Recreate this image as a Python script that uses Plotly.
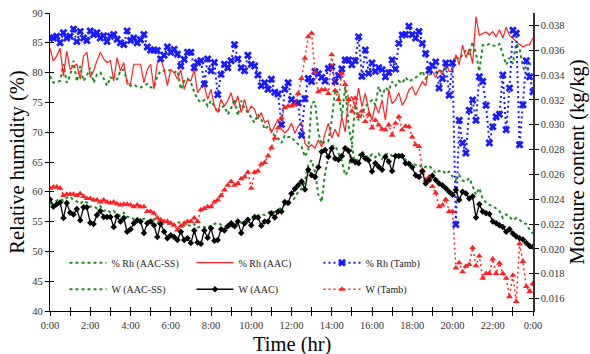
import plotly.graph_objects as go

# sampling grid: every 10 minutes over 24 h
minutes = list(range(0, 1441, 10))
hours = [m / 60 for m in minutes]

rh_aac_ss = [79.4, 78.3, 78.4, 78.6, 81.4, 78.3, 79.5, 82.0, 78.5, 81.1,
             78.6, 79.5, 80.8, 78.3, 79.7, 80.0, 79.0, 77.8, 79.2, 78.9,
             78.9, 80.3, 80.5, 78.5, 77.8, 78.0, 77.6, 77.5, 77.8, 78.1,
             77.5, 77.6, 79.4, 80.3, 80.3, 80.5, 80.3, 80.0, 80.3, 77.2,
             78.6, 79.0, 78.4, 76.7, 75.5, 75.0, 75.4, 74.4, 75.3, 74.2,
             73.3, 74.2, 74.4, 73.0, 74.0, 75.6, 72.8, 75.3, 74.0, 73.3,
             72.5, 71.6, 73.0, 72.2, 70.5, 71.0, 70.2, 69.4, 69.0, 68.2,
             69.5, 69.2, 69.2, 68.5, 68.0, 67.6, 65.9, 67.0, 74.9, 75.1,
             70.0, 67.9, 68.5, 68.5, 72.0, 77.1, 76.5, 72.6, 77.6, 71.2,
             68.0, 74.6, 72.0, 73.0, 74.3, 74.8, 75.4, 74.6, 77.7, 76.0,
             77.5, 77.0, 78.5, 77.8, 78.6, 78.2, 79.2, 78.5, 78.8, 79.2,
             79.5, 80.3, 79.0, 79.6, 79.9, 80.0, 80.4, 80.2, 80.6, 81.2,
             81.8, 82.7, 82.2, 83.0, 83.8, 83.0, 85.2, 83.2, 80.2, 84.6,
             84.5, 84.8, 84.6, 84.4, 84.8, 83.0, 81.3, 82.5, 81.5, 84.9,
             84.0, 81.0, 79.7, 81.5, 81.0]

rh_aac = [84.1, 81.9, 82.8, 84.1, 79.4, 83.6, 80.5, 81.1, 81.4, 78.9,
          82.8, 83.4, 79.2, 80.3, 82.0, 83.4, 82.3, 81.7, 82.0, 78.6,
          82.5, 80.3, 81.7, 78.1, 78.1, 81.4, 81.4, 81.4, 78.3, 80.5,
          81.4, 77.2, 81.7, 82.3, 80.6, 77.8, 80.5, 80.0, 78.9, 80.5,
          77.2, 78.9, 78.6, 80.5, 76.6, 77.5, 77.8, 75.5, 77.2, 74.4,
          73.3, 75.5, 74.4, 75.3, 76.6, 74.4, 76.1, 73.3, 75.5, 73.3,
          74.4, 73.8, 72.2, 73.3, 71.6, 72.0, 69.9, 71.0, 72.2, 70.5,
          69.9, 70.4, 71.5, 69.8, 71.0, 71.7, 68.1, 67.5, 67.9, 67.3,
          68.7, 67.5, 69.8, 71.5, 69.0, 70.5, 69.2, 72.6, 70.0, 75.4,
          76.0, 74.0, 77.4, 74.3, 76.5, 73.7, 72.0, 74.6, 73.2, 75.4,
          72.0, 77.1, 74.8, 75.4, 76.6, 74.5, 75.4, 77.1, 77.6, 76.2,
          77.4, 78.5, 77.8, 80.7, 80.2, 79.2, 80.5, 79.6, 81.9, 80.2,
          80.2, 83.0, 81.3, 84.6, 82.5, 84.0, 81.5, 89.4, 86.3, 86.5,
          86.8, 86.3, 86.9, 86.0, 87.2, 85.8, 87.6, 86.2, 85.8, 85.2,
          84.8, 84.3, 84.6, 84.7, 85.8]

rh_tamb = [85.8, 85.8, 86.1, 85.0, 86.7, 85.8, 86.1, 87.3, 85.2, 86.9,
           85.8, 85.4, 87.0, 86.4, 86.7, 85.8, 86.2, 85.2, 86.1, 86.4,
           85.6, 85.0, 84.7, 87.0, 85.4, 85.8, 85.0, 85.5, 86.4, 84.3,
           83.8, 83.8, 83.7, 82.3, 82.9, 84.3, 83.4, 83.9, 83.1, 81.1,
           82.2, 83.4, 83.4, 80.8, 81.7, 82.0, 78.1, 82.3, 80.3, 81.7,
           76.3, 79.7, 81.4, 80.8, 82.0, 84.7, 82.3, 80.8, 80.3, 82.9,
           81.4, 81.1, 79.6, 77.8, 78.3, 77.2, 78.9, 76.7, 76.4, 71.3,
           77.2, 78.3, 75.5, 75.0, 74.9, 69.5, 75.6, 79.0, 78.5, 80.2,
           79.8, 79.2, 78.6, 80.7, 81.0, 78.5, 79.5, 80.6, 82.1, 82.1,
           81.3, 82.0, 86.0, 79.4, 83.8, 79.9, 81.6, 80.2, 80.8, 80.5,
           79.3, 80.0, 82.1, 80.6, 84.9, 86.3, 86.4, 87.8, 86.4, 85.8,
           86.9, 84.9, 83.2, 80.4, 81.2, 81.8, 77.4, 79.0, 81.6, 76.2,
           81.6, 54.5, 72.0, 68.2, 66.5, 73.7, 75.4, 72.0, 79.3, 78.5,
           74.5, 68.2, 70.9, 72.6, 73.0, 79.6, 70.4, 77.4, 87.1, 86.6,
           67.9, 74.6, 82.0, 79.3, 76.8]

w_aac_ss = [0.02364, 0.02378, 0.02388, 0.02402, 0.02388, 0.02412, 0.02422, 0.02393, 0.02383, 0.02364,
            0.02388, 0.02374, 0.02340, 0.02345, 0.02326, 0.02345, 0.02306, 0.02316, 0.02292, 0.02306,
            0.02278, 0.02268, 0.02292, 0.02258, 0.02258, 0.02239, 0.02249, 0.02230, 0.02244, 0.02220,
            0.02225, 0.02239, 0.02210, 0.02230, 0.02220, 0.02201, 0.02206, 0.02191, 0.02215, 0.02210,
            0.02186, 0.02196, 0.02182, 0.02201, 0.02172, 0.02182, 0.02177, 0.02167, 0.02191, 0.02201,
            0.02210, 0.02196, 0.02186, 0.02172, 0.02182, 0.02201, 0.02191, 0.02210, 0.02220, 0.02230,
            0.02239, 0.02249, 0.02268, 0.02278, 0.02273, 0.02292, 0.02306, 0.02297, 0.02316, 0.02335,
            0.02354, 0.02364, 0.02383, 0.02412, 0.02460, 0.02484, 0.02546, 0.02676, 0.02714, 0.02623,
            0.02436, 0.02378, 0.02609, 0.02743, 0.02825, 0.02834, 0.02772, 0.02710, 0.02594, 0.02628,
            0.02834, 0.02676, 0.02748, 0.02786, 0.02758, 0.02729, 0.02762, 0.02738, 0.02767, 0.02724,
            0.02758, 0.02772, 0.02748, 0.02738, 0.02767, 0.02748, 0.02719, 0.02690, 0.02690, 0.02676,
            0.02681, 0.02652, 0.02662, 0.02671, 0.02642, 0.02609, 0.02628, 0.02633, 0.02604, 0.02623,
            0.02585, 0.02556, 0.02594, 0.02551, 0.02542, 0.02570, 0.02508, 0.02436, 0.02489, 0.02402,
            0.02374, 0.02354, 0.02345, 0.02326, 0.02306, 0.02249, 0.02278, 0.02258, 0.02230, 0.02249,
            0.02234, 0.02210, 0.02201, 0.02153, 0.02124]

w_aac = [0.02398, 0.02340, 0.02359, 0.02374, 0.02249, 0.02369, 0.02292, 0.02278, 0.02321, 0.02230,
         0.02335, 0.02335, 0.02210, 0.02201, 0.02273, 0.02306, 0.02258, 0.02258, 0.02258, 0.02177,
         0.02263, 0.02220, 0.02249, 0.02138, 0.02158, 0.02206, 0.02230, 0.02220, 0.02129, 0.02206,
         0.02220, 0.02191, 0.02095, 0.02201, 0.02138, 0.02086, 0.02110, 0.02095, 0.02071, 0.02138,
         0.02071, 0.02086, 0.02047, 0.02148, 0.02052, 0.02042, 0.02148, 0.02090, 0.02167, 0.02066,
         0.02071, 0.02158, 0.02148, 0.02182, 0.02206, 0.02182, 0.02220, 0.02129, 0.02206, 0.02234,
         0.02191, 0.02258, 0.02254, 0.02186, 0.02220, 0.02220, 0.02287, 0.02254, 0.02302, 0.02302,
         0.02378, 0.02369, 0.02446, 0.02484, 0.02513, 0.02542, 0.02479, 0.02638, 0.02594, 0.02580,
         0.02657, 0.02782, 0.02796, 0.02743, 0.02810, 0.02729, 0.02719, 0.02748, 0.02810, 0.02791,
         0.02714, 0.02700, 0.02690, 0.02758, 0.02729, 0.02714, 0.02623, 0.02690, 0.02662, 0.02638,
         0.02743, 0.02705, 0.02628, 0.02748, 0.02748, 0.02748, 0.02690, 0.02686, 0.02657, 0.02594,
         0.02580, 0.02623, 0.02527, 0.02556, 0.02590, 0.02556, 0.02527, 0.02513, 0.02489, 0.02460,
         0.02436, 0.02474, 0.02393, 0.02460, 0.02446, 0.02407, 0.02422, 0.02254, 0.02359, 0.02302,
         0.02287, 0.02282, 0.02220, 0.02206, 0.02191, 0.02177, 0.02138, 0.02158, 0.02124, 0.02100,
         0.02086, 0.02076, 0.02047, 0.02023, 0.02018]

w_tamb = [0.02489, 0.02498, 0.02498, 0.02489, 0.02431, 0.02441, 0.02441, 0.02441, 0.02431, 0.02446,
          0.02422, 0.02407, 0.02407, 0.02393, 0.02393, 0.02378, 0.02393, 0.02378, 0.02369, 0.02378,
          0.02364, 0.02354, 0.02359, 0.02359, 0.02354, 0.02340, 0.02354, 0.02340, 0.02340, 0.02302,
          0.02302, 0.02287, 0.02249, 0.02234, 0.02220, 0.02220, 0.02206, 0.02191, 0.02153, 0.02182,
          0.02206, 0.02220, 0.02220, 0.02249, 0.02220, 0.02316, 0.02326, 0.02340, 0.02340, 0.02378,
          0.02393, 0.02431, 0.02474, 0.02513, 0.02542, 0.02513, 0.02527, 0.02566, 0.02580, 0.02618,
          0.02489, 0.02618, 0.02628, 0.02681, 0.02695, 0.02748, 0.02815, 0.02892, 0.02974, 0.03055,
          0.03137, 0.03151, 0.03151, 0.03161, 0.03252, 0.03372, 0.03535, 0.03708, 0.03737, 0.03420,
          0.03266, 0.03281, 0.03281, 0.03252, 0.03564, 0.03276, 0.03204, 0.03415, 0.03324, 0.03204,
          0.03108, 0.03214, 0.03065, 0.03108, 0.03026, 0.03084, 0.02974, 0.03036, 0.02998, 0.02964,
          0.02959, 0.02998, 0.02916, 0.03012, 0.03065, 0.02959, 0.02988, 0.02983, 0.02902, 0.02839,
          0.02825, 0.02638, 0.02556, 0.02580, 0.02503, 0.02450, 0.02340, 0.02354, 0.02398, 0.02302,
          0.02302, 0.01846, 0.01889, 0.01817, 0.01860, 0.01874, 0.02009, 0.01865, 0.01942, 0.01764,
          0.01802, 0.01802, 0.01918, 0.01802, 0.01884, 0.01802, 0.01764, 0.01615, 0.01788, 0.01577,
          0.02042, 0.01898, 0.01697, 0.01658, 0.01721]

x_tick_vals = [0, 2, 4, 6, 8, 10, 12, 14, 16, 18, 20, 22, 24]
x_tick_text = ["0:00", "2:00", "4:00", "6:00", "8:00", "10:00", "12:00",
               "14:00", "16:00", "18:00", "20:00", "22:00", "0:00"]

FONT = "Liberation Serif"
GREEN = "#1E8C1E"
RED = "#FF2020"
BLUE = "#1A1AFF"

fig = go.Figure()

# moisture content traces (right axis)
fig.add_trace(go.Scatter(x=hours, y=w_aac_ss, name="W (AAC-SS)", mode="lines",
                         line=dict(color=GREEN, width=2, dash="3px,3px"),
                         xaxis="x", yaxis="y2", legend="legend2", legendrank=1))
fig.add_trace(go.Scatter(x=hours, y=w_tamb, name="W (Tamb)", mode="lines+markers",
                         line=dict(color=RED, width=1.5, dash="2px,3px"),
                         marker=dict(symbol="triangle-up", size=6, color=RED),
                         xaxis="x", yaxis="y2", legend="legend2", legendrank=3))
fig.add_trace(go.Scatter(x=hours, y=w_aac, name="W (AAC)", mode="lines+markers",
                         line=dict(color="black", width=1.3),
                         marker=dict(symbol="diamond", size=5, color="black"),
                         xaxis="x", yaxis="y2", legend="legend2", legendrank=2))

# relative humidity traces (left axis)
fig.add_trace(go.Scatter(x=hours, y=rh_aac_ss, name="% Rh (AAC-SS)", mode="lines",
                         line=dict(color=GREEN, width=2, dash="3px,3px"),
                         legend="legend", legendrank=1))
fig.add_trace(go.Scatter(x=hours, y=rh_aac, name="% Rh (AAC)", mode="lines",
                         line=dict(color=RED, width=1.2), legend="legend", legendrank=2))
fig.add_trace(go.Scatter(x=hours, y=rh_tamb, name="% Rh (Tamb)", mode="lines+markers",
                         line=dict(color=BLUE, width=2, dash="2px,3px"),
                         marker=dict(symbol="x", size=7, color=BLUE),
                         legend="legend", legendrank=3))

# empty traces that carry the inward half of the crossing ticks
fig.add_trace(go.Scatter(x=[], y=[], xaxis="x3", yaxis="y3", showlegend=False, hoverinfo="skip"))
fig.add_trace(go.Scatter(x=[], y=[], xaxis="x3", yaxis="y4", showlegend=False, hoverinfo="skip"))

tick_font = dict(family=FONT, size=10.5, color="#333333")
title_font = dict(family=FONT, size=20.5, color="black")
legend_font = dict(family=FONT, size=10, color="#222222")

fig.update_layout(
    width=590, height=354,
    margin=dict(l=50, r=57, t=13, b=43),
    paper_bgcolor="white", plot_bgcolor="white",
    font=dict(family=FONT, size=11, color="#222222"),
    xaxis=dict(range=[0, 24], tickvals=x_tick_vals, ticktext=x_tick_text,
               ticks="outside", ticklen=4, tickwidth=1, tickcolor="black",
               minor=dict(dtick=1, ticks="outside", ticklen=4, tickwidth=1, tickcolor="black"),
               showline=True, linecolor="black", linewidth=1.2, automargin=False,
               showgrid=False, zeroline=False, tickfont=tick_font),
    yaxis=dict(range=[40, 90], dtick=5, ticks="outside", ticklen=4, tickcolor="black",
               showline=True, linecolor="black", linewidth=1.2, automargin=False,
               showgrid=False, zeroline=False, tickfont=tick_font,
               title=dict(text="Relative humidity (%)", font=title_font, standoff=2)),
    yaxis2=dict(range=[0.015, 0.039], dtick=0.002, tickformat=".3f", overlaying="y",
                side="right", anchor="x", ticks="outside", ticklen=4, tickcolor="black",
                showline=True, linecolor="#333333", linewidth=1.5, automargin=False,
                showgrid=False, zeroline=False, tickfont=tick_font,
                title=dict(text="Moisture content (kg/kg)", font=title_font, standoff=5)),
    xaxis3=dict(range=[0, 24], dtick=1, overlaying="x", anchor="y", ticks="inside",
                ticklen=4, tickcolor="black", showticklabels=False, showline=False,
                showgrid=False, zeroline=False, automargin=False),
    yaxis3=dict(range=[40, 90], dtick=5, overlaying="y", anchor="x", side="left",
                ticks="inside", ticklen=4, tickcolor="black", showticklabels=False,
                showline=False, showgrid=False, zeroline=False, automargin=False),
    yaxis4=dict(range=[0.015, 0.039], dtick=0.002, overlaying="y", anchor="x", side="right",
                ticks="inside", ticklen=4, tickcolor="black", showticklabels=False,
                showline=False, showgrid=False, zeroline=False, automargin=False),
    legend=dict(orientation="h", x=0.03, xanchor="left", y=0.162, yanchor="middle",
                entrywidth=75, entrywidthmode="pixels", itemwidth=37,
                bgcolor="rgba(0,0,0,0)", font=legend_font, traceorder="normal"),
    legend2=dict(orientation="h", x=0.03, xanchor="left", y=0.073, yanchor="middle",
                 entrywidth=75, entrywidthmode="pixels", itemwidth=37,
                 bgcolor="rgba(0,0,0,0)", font=legend_font, traceorder="normal"),
    showlegend=True,
    annotations=[dict(text="Time (hr)", xref="paper", yref="paper", x=0.5, y=-0.066,
                      xanchor="center", yanchor="top", showarrow=False, font=title_font)],
)

fig.write_html("out.html")
